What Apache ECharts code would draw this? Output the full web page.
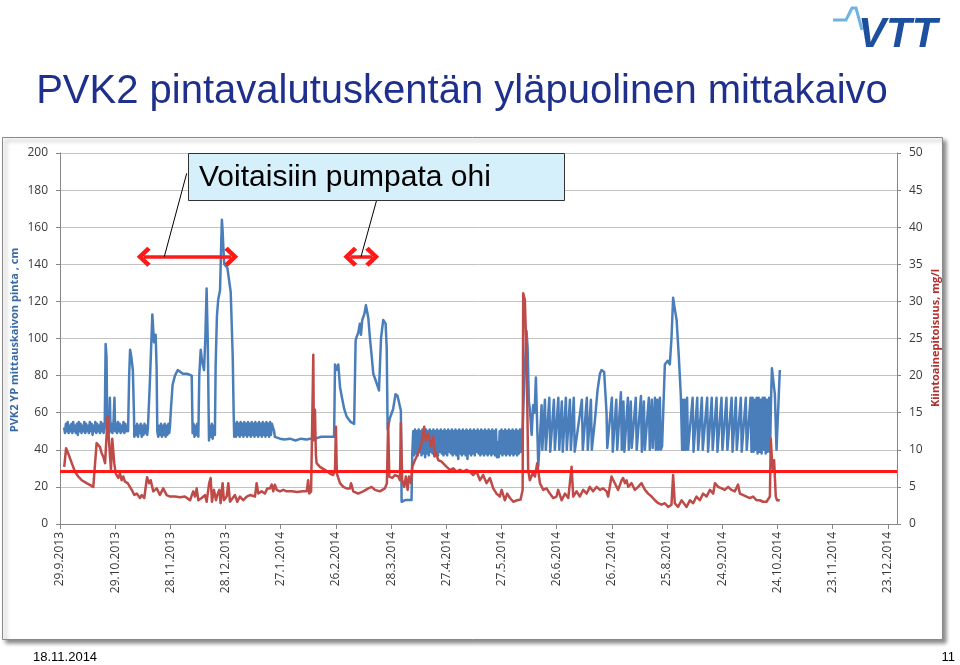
<!DOCTYPE html>
<html><head><meta charset="utf-8">
<script src="https://cdn.jsdelivr.net/npm/echarts@6/dist/echarts.min.js"></script>
<style>html,body{margin:0;padding:0;background:#fff}#c{width:960px;height:665px}</style>
</head><body><div id="c"></div>
<script>
// x = days since 29.9.2013
const tickDays = [0,30,60,90,120,150,180,210,240,270,300,330,360,390,420,450];
const leftTicks = [0,20,40,60,80,100,120,140,160,180,200];
const rightTicks = [0,5,10,15,20,25,30,35,40,45,50];

// PVK2 YP mittauskaivon pinta, cm  [day, cm]
const levelCm = [
[2.2,52],[2.7,49],[3.2,54],[3.7,50],[4.2,55],[4.7,49],[5.2,53],[5.7,50],[6.2,54],[6.7,49],[7.2,55],[7.7,50],[8.2,53],[8.7,49],[9.2,54],[9.7,48],[10.2,55],[10.7,50],[11.2,54],[11.7,49],[12.2,53],[12.7,50],[13.2,55],[13.7,49],[14.2,54],[14.7,50],[15.2,53],[15.7,49],[16.2,55],[16.7,50],[17.2,54],[17.7,48],[18.2,53],[18.7,50],[19.2,55],[19.7,49],[20.2,54],[20.7,50],[21.2,53],[21.7,49],[22.2,55],[22.7,50],[23.2,54],[23.7,49],
[24.3,52],[24.8,97],[25.3,90],[25.7,50],[26.2,54],[26.7,49],[27.1,68],[27.5,50],[28.0,54],[28.5,49],[29.0,53],[29.6,68],[30.0,50],[30.5,54],[31.0,49],[31.5,55],[32,50],[32.5,54],[33,49],[33.5,53],[34,50],[34.5,55],[35,49],[35.5,54],[36,50],[36.5,53],[37,50],
[37.6,80],[38.1,94],[38.8,90],[39.6,83],[40.2,60],[40.4,47],[40.9,53],[41.4,48],[41.9,54],[42.4,47],[42.9,53],[43.4,49],[43.9,54],[44.4,47],[44.9,53],[45.4,48],[45.9,54],[46.4,49],[46.9,53],[47.4,48],[47.8,52],
[48.8,75],[50.2,113],[51.1,98],[51.5,100],[52,102],[52.5,85],[52.9,50],[53.4,47],[53.9,53],[54.4,48],[54.9,54],[55.4,47],[55.9,53],[56.4,48],[56.9,54],[57.4,47],[57.9,53],[58.4,48],[58.9,54],[59.4,49],[59.8,53],
[60.3,62],[61.2,75],[62.5,80],[64,83],[64.8,82],[66.8,81],[69,81],[71.6,80],[72.1,49],[72.6,54],[73.1,47],[73.6,53],[74.1,48],[74.6,54],[75.2,47],
[75.7,80],[76.5,94],[77.2,88],[78.3,83],[79,100],[79.7,127],[80.3,100],[81,45],[81.5,53],[82,47],[82.5,54],[83,46],[83.5,53],[84.2,48],
[84.6,85],[85.3,112],[86,121],[87,126],[87.6,150],[88,164],[88.4,158],[88.8,149],[89.3,140],[90.2,139],[91,138],[92,137],[92.8,125],[93.9,90],[94.4,60],[94.7,47],
[95.2,54],[95.7,47],[96.2,55],[96.7,48],[97.2,54],[97.7,47],[98.2,55],[98.7,48],[99.2,54],[99.7,47],[100.2,55],[100.7,48],[101.2,54],[101.7,47],[102.2,55],[102.7,48],[103.2,54],[103.7,47],[104.2,55],[104.7,48],[105.2,54],[105.7,47],[106.2,55],[106.7,48],[107.2,54],[107.7,47],[108.2,55],[108.7,48],[109.2,54],[109.7,47],[110.2,55],[110.7,48],[111.2,54],[111.7,47],[112.2,55],[112.7,48],[113.2,54],[113.7,47],[114.2,55],[114.7,48],[115.2,54],[115.9,55],[116.4,50],[116.8,47],
[117.5,47],[119.6,46],[122,45.5],[125,46],[128,45],[131,46],[134,45.5],[135.9,46],[138.6,46],[139.5,47],[142,47],[145,47],[149,47],
[149.3,70],[149.5,86],[150.2,83],[151.3,86],[152.2,74],[153.1,69],[154.5,62],[155.8,58],[158,55],[159.9,54],
[160.7,99],[161.3,101],[162.1,103],[163,108],[163.6,102],[164.3,110],[165.4,113],[166.3,118],[167.6,111],[168.5,100],[169.5,90],[170.3,81],[172.1,76],[173.4,72],
[174.5,100],[175.7,110],[177,108],[177.6,95],[178.1,51],[178.4,51],[179.3,57],[179.9,58],[181.1,62],[182.4,70],[183.5,69],[185.3,61],[185.7,12],[188,13],[191.1,13],
[191.5,38],[192,50],[192.5,37],[193,51],[193.5,38],[194,50],[194.5,37],[195,51],[195.5,39],[196,50],[196.5,37],[197,51],[197.5,38],[198,50],[198.5,36],[199,51],[199.5,38],[200,50],[200.5,37],[201,51],[201.5,39],[202,50],[202.5,38],[203,51],[203.5,37],[204,50],[204.5,38],[205,51],[205.5,37],[206,50],[206.5,39],[207,51],[207.5,38],[208,50],[208.5,37],[209,51],[209.5,38],[210,50],[210.5,37],[211,51],[211.5,39],[212,50],[212.5,38],[213,51],[213.5,37],[214,50],[214.5,38],[215,51],[215.5,37],[216,50],[216.5,35],[217,51],[217.5,38],[218,50],[218.5,37],[219,51],[219.5,38],[220,50],[220.5,37],[221,51],[221.5,35],[222,50],[222.5,38],[223,51],[223.5,37],[224,50],[224.5,38],[225,51],[225.5,37],[226,50],[226.5,39],[227,51],[227.5,38],[228,50],[228.5,37],[229,51],[229.5,38],[230,50],[230.5,37],[231,51],[231.5,38],[232,50],[232.5,37],[233,51],[233.5,38],[234,50],[234.5,37],[235,51],[235.5,38],[236,50],[236.5,37],[237,51],[237.5,36],[238,44],[238.5,36],[239,50],[239.5,38],[240,51],[240.5,37],[241,50],[241.5,38],[242,51],[242.5,37],[243,50],[243.5,38],[244,51],[244.5,37],[245,50],[245.5,38],[246,51],[246.5,37],[247,50],[247.5,38],[248,51],[248.5,37],[249,50],[249.5,38],[250,51],[250.5,39],
[250.9,50],[251.5,52],[252.3,75],[253.6,104],[254.2,95],[254.9,66],[255.4,62],[256.4,48],[257.2,64],[258,60],[258.7,79],[260,31],[260.9,47],[261.8,64],[262.2,40],[263.6,67],[264.1,40],[266,68],[266.5,39],[268.5,67],[269,40],[270.9,68],[271.4,40],[272.8,66],[273.3,39],[275,68],[275.5,40],[277.2,67],[277.7,40],[279.3,68],[279.8,39],[283.7,67],[284.2,40],[286.4,68],[286.9,40],[288.6,67],[289.1,40],[289.5,41],[290.8,56],[292.2,72],[293.5,81],[294.4,83],[295.8,82],[296.7,81],[297.1,60],[297.5,41],
[300,68],[300.5,39],[302.4,67],[302.9,40],[304.9,71],[305.4,40],[306.3,66],[306.8,39],[308.7,68],[309.2,40],[310.3,66],[310.8,41],[313,68],[313.5,40],[315.8,69],[316.3,39],[317.4,66],[317.9,40],[320.1,68],[320.6,40],[321.7,67],[322.2,41],[323.4,68],[323.9,40],[324.7,67],[325.2,40],[326.1,68],[326.6,40],[327.3,42],
[328.8,86],[330.3,88],[331.5,86],[332.4,100],[333.3,122],[334.2,116],[335.2,110],[336.4,90],[337.5,69],[338.2,40],
[338.6,67],[339.1,40],[339.6,67],[340.1,40],[340.9,68],[341.4,40],[343.9,68],[344.4,39],[346.4,68],[346.9,40],[348.9,68],[349.4,40],[351.8,68],[352.3,39],[354.3,68],[354.8,40],[356.9,68],[357.4,39],[359.6,68],[360.1,40],[362.3,68],[362.8,40],[365.1,68],[365.6,39],[367.4,68],[367.9,40],[370.1,68],[370.6,39],[372.8,68],[373.3,40],[375.4,68],[375.9,39],[376.5,68],[377,39],[377.6,67],[378.1,40],[378.7,68],[379.2,38],[379.8,68],[380.3,39],[380.9,67],[381.4,38],[382,68],[382.5,40],[383.1,68],[383.6,38],[384.2,67],[384.7,39],[385.5,68],[386,39],[386.5,66],[387,84],[388,75],[388.6,70],[389.5,40],[391.3,83]
];

// Kiintoainepitoisuus, mg/l  [day, mg/l]
const solidsMgl = [
[2.3,7.7],[3.3,10.2],[4.5,9.5],[6.4,8.2],[8.2,7.0],[9.9,6.4],[11.8,5.9],[14.5,5.5],[15.4,5.6],[18.1,5.0],[18.6,5.1],[19.9,10.9],[21.7,10.4],[22.7,9.5],[23.5,9.1],[24.5,8.2],[25.9,14.5],[26.6,11.3],[27.7,7.3],[28.4,11.5],[29.5,8.2],[30.3,6.8],[31.7,6.2],[32.6,6.8],[33.5,5.9],[34.4,6.4],[35.3,5.7],[36.8,5.5],[38,5.0],[39,4.6],[40.4,3.9],[41.7,4.1],[43.5,3.5],[44.4,3.9],[45.8,3.5],[46.6,3.7],[47.3,6.3],[48.5,5.5],[49.3,5.9],[50.7,4.4],[52.6,4.8],[54.3,3.9],[55.3,4.1],[56.1,4.8],[58,3.9],[59.8,3.7],[62.5,3.7],[65.2,3.6],[67.9,3.7],[70.7,3.2],[72.4,4.4],[73.4,3.7],[74.3,4.8],[75.2,3.2],[77,3.5],[78.8,3.9],[79.7,3.0],[81.1,5.5],[81.9,6.2],[82.6,3.0],[83.7,4.6],[84.8,3.2],[85.5,3.9],[86.6,4.6],[87.3,2.8],[88.4,5.5],[89.1,3.2],[90.6,3.7],[91.5,5.5],[92.4,3.0],[93.9,3.5],[95.1,3.9],[96.4,3.0],[97.8,3.7],[99.6,3.2],[101.5,3.7],[103.3,3.9],[106,3.7],[106.9,5.5],[107.8,4.1],[109.6,4.4],[111.4,4.1],[112.7,4.8],[114.1,4.8],[115.1,5.3],[115.9,4.4],[116.8,5.3],[117.8,4.6],[119.6,4.4],[121.4,4.6],[123.2,4.4],[126,4.4],[129,4.3],[132,4.4],[134.1,4.4],[134.9,5.9],[135.5,4.1],[136.5,4.4],[137.1,4.4],[137.7,22.8],[138,11.3],[138.6,15.4],[139.1,9.3],[139.5,8.2],[141.3,7.7],[144,7.3],[146.7,6.8],[148.5,6.6],[149.5,7.3],[150,13.1],[150.5,6.8],[152.2,5.5],[154,5.0],[155.8,4.8],[157.6,4.8],[158.2,5.5],[159.4,4.4],[162.1,4.1],[164.8,4.4],[167.6,4.8],[169.4,5.0],[171.2,4.6],[173.9,4.4],[176.6,4.8],[177.7,5.5],[178.4,13.6],[179,6.4],[180.6,6.2],[182.1,6.6],[183.9,6.4],[184.8,5.9],[185.3,13.6],[186,5.9],[187.1,5.0],[188,6.4],[189,4.6],[189.7,6.4],[190.8,5.5],[191.5,7.7],[192.9,8.6],[194.7,9.5],[196.6,10.9],[198,13.1],[198.7,11.3],[200.2,12.2],[201.6,10.4],[202.9,11.8],[203.6,9.1],[204.3,9.7],[205.6,8.6],[207.4,8.4],[210.2,7.7],[212,7.3],[213.8,7.5],[215.6,7.05],[217.4,7.3],[219.2,7.05],[221,7.3],[222.8,7.05],[224.6,6.6],[226.5,7.05],[228.3,5.9],[230,6.6],[231.9,5.5],[233.7,6.2],[235.5,4.8],[237.3,4.1],[239.1,3.7],[240.1,4.6],[241.8,3.2],[243.1,4.1],[244.6,3.5],[246.4,3.0],[248.5,3.2],[250.4,3.3],[251.5,4.6],[251.8,31.1],[252.7,30.2],[253.3,25.2],[254,16.3],[254.5,7.3],[255.4,5.9],[256.9,6.8],[258.2,6.4],[259.4,8.2],[260.9,5.5],[262.7,4.6],[264.5,4.8],[266.3,4.1],[268.1,3.5],[269.9,3.7],[270.8,4.6],[272.7,3.2],[274.5,4.1],[276.3,3.5],[278.1,7.7],[279,3.7],[280.8,4.4],[282.6,3.7],[284.4,4.6],[286.3,4.1],[288,5.0],[289.8,4.4],[291.7,5.0],[293.5,4.6],[295.3,4.8],[297.1,4.4],[298,3.7],[299.8,6.4],[301.6,5.5],[303.4,4.6],[305.3,5.9],[306.1,6.2],[307.1,5.5],[308,5.9],[308.9,5.0],[310.7,5.5],[312.5,4.6],[314.3,5.0],[316.1,5.5],[318,4.6],[319.7,4.1],[321.6,3.7],[323.4,3.2],[325.2,2.8],[327,2.6],[328.8,2.8],[330.6,2.3],[332.4,2.6],[333.3,6.6],[334.2,2.8],[336,2.3],[337.9,3.2],[338.8,3.2],[340.6,2.3],[342.4,3.2],[344.2,2.8],[346,3.7],[347.8,3.2],[349.6,4.1],[351.5,3.7],[353.3,4.6],[355.1,4.1],[356,5.5],[357.8,5.0],[359.6,4.8],[361.4,4.6],[363.2,5.0],[365,4.6],[366.8,4.4],[368.6,5.3],[369.6,4.1],[371.4,3.9],[373.2,3.7],[375,3.5],[376.8,3.7],[378.6,3.2],[380.4,3.2],[382.2,3.0],[384.1,3.0],[385,3.2],[385.9,3.7],[386.4,11.5],[387.1,8.2],[387.7,7.3],[388.2,8.6],[389.1,3.7],[389.8,3.2],[391.3,3.2]
];

const thresholdMgl = 7.1;
// "Voitaisiin pumpata ohi" periods [startDay, endDay] at level (cm)
const bypassPeriods = [[45.5,93.1],[157.8,169.7]];
const bypassLevel = 144.1;

function dayLabel(d){
  const dt = new Date(2013, 8, 29 + Math.round(d));
  return dt.getDate() + '.' + (dt.getMonth()+1) + '.' + dt.getFullYear();
}

const chart = echarts.init(document.getElementById('c'), null, {renderer:'canvas'});
const labelFont = '"Open Sans", "Noto Sans", sans-serif';
const chevron = 'path://M10,0 L20,9 L17,12 L10,5.5 L3,12 L0,9 Z';

chart.setOption({
  animation: false,
  backgroundColor: 'transparent',
  grid: {left: 60, right: 63, top: 153, bottom: 141, containLabel: false},
  xAxis: {
    type: 'value', min: 0, max: 455,
    axisLine: {show: true, onZero: false, lineStyle: {color: '#868686', width: 1}},
    axisTick: {show: true, customValues: tickDays, length: 5, lineStyle: {color: '#868686'}},
    axisLabel: {customValues: tickDays, rotate: 90, margin: 8, fontSize: 12, color: '#3a3a3a', fontFamily: labelFont, formatter: v => dayLabel(v)},
    splitLine: {show: false}
  },
  yAxis: [
    {type: 'value', min: 0, max: 200, interval: 20, position: 'left',
     axisLine: {show: true, lineStyle: {color: '#868686'}},
     axisTick: {show: true, length: 4, lineStyle: {color: '#868686'}},
     axisLabel: {fontSize: 12, color: '#3a3a3a', margin: 12, fontFamily: labelFont},
     splitLine: {show: true, lineStyle: {color: '#c3c3c3', width: 1}}},
    {type: 'value', min: 0, max: 50, interval: 5, position: 'right',
     axisLine: {show: true, lineStyle: {color: '#868686'}},
     axisTick: {show: true, length: 4, lineStyle: {color: '#868686'}},
     axisLabel: {fontSize: 12, color: '#3a3a3a', margin: 12, fontFamily: labelFont},
     splitLine: {show: false}}
  ],
  series: [
    {type: 'line', name: 'PVK2 YP mittauskaivon pinta, cm', yAxisIndex: 0, data: levelCm,
     showSymbol: false, symbol: 'none', z: 3,
     lineStyle: {color: '#4a7ebb', width: 2.5, join: 'round'},
     markLine: {silent: true, symbol: [chevron, chevron], symbolSize: [20, 14],
       lineStyle: {color: '#ff1a1a', width: 3.5, type: 'solid'}, label: {show: false},
       data: bypassPeriods.map(p => [{coord: [p[0], bypassLevel]}, {coord: [p[1], bypassLevel]}])}
    },
    {type: 'line', name: 'Kiintoainepitoisuus, mg/l', yAxisIndex: 1, data: solidsMgl,
     showSymbol: false, symbol: 'none', z: 4,
     lineStyle: {color: '#be4b48', width: 2.5, join: 'round'},
     markLine: {silent: true, symbol: 'none', label: {show: false},
       lineStyle: {color: '#ff1a1a', width: 3, type: 'solid'},
       data: [{yAxis: thresholdMgl}]}
    }
  ],
  graphic: [
    {type: 'rect', z: -10, silent: true, shape: {x: 2.5, y: 137.5, width: 940, height: 502},
     style: {fill: '#ffffff', stroke: '#8a8a8a', lineWidth: 1, shadowBlur: 4, shadowOffsetX: 3, shadowOffsetY: 3, shadowColor: 'rgba(0,0,0,0.45)'}},
    {type: 'text', z: 10, x: 462, y: 92,
     style: {text: 'PVK2 pintavalutuskentän yläpuolinen mittakaivo', font: '40px "Liberation Sans", Arial, sans-serif', fill: '#1f2f8c', align: 'center', verticalAlign: 'middle', textAlign: 'center', textVerticalAlign: 'middle'}},
    {type: 'text', z: 10, x: 15, y: 340, rotation: Math.PI/2,
     style: {text: 'PVK2 YP mittauskaivon pinta , cm', font: 'bold 11px "Open Sans", sans-serif', fill: '#3a6aa8', align: 'center', verticalAlign: 'middle', textAlign: 'center', textVerticalAlign: 'middle'}},
    {type: 'text', z: 10, x: 936, y: 338, rotation: Math.PI/2,
     style: {text: 'Kiintoainepitoisuus, mg/l', font: 'bold 11px "Open Sans", sans-serif', fill: '#b3302e', align: 'center', verticalAlign: 'middle', textAlign: 'center', textVerticalAlign: 'middle'}},
    {type: 'line', z: 20, silent: true, shape: {x1: 186.7, y1: 173.3, x2: 164.3, y2: 256.7}, style: {stroke: '#000', lineWidth: 1}},
    {type: 'line', z: 20, silent: true, shape: {x1: 376.7, y1: 200, x2: 361, y2: 256.7}, style: {stroke: '#000', lineWidth: 1}},
    {type: 'rect', z: 30, silent: true, shape: {x: 188.5, y: 153.5, width: 376, height: 47},
     style: {fill: '#d5effb', stroke: '#333', lineWidth: 1}},
    {type: 'text', z: 31, x: 199, y: 178,
     style: {text: 'Voitaisiin pumpata ohi', font: '30px "Liberation Sans", Arial, sans-serif', fill: '#000', align: 'left', verticalAlign: 'middle', textAlign: 'left', textVerticalAlign: 'middle'}},
    {type: 'polyline', z: 10, silent: true, shape: {points: [[833,20],[846,20],[852,8],[856,8],[862,30]]},
     style: {stroke: '#6fb3e3', lineWidth: 3, fill: null}},
    {type: 'text', z: 11, x: 858, y: 35,
     style: {text: 'VTT', font: 'italic bold 42px "Liberation Sans", Arial, sans-serif', fill: '#1d4f9f', align: 'left', verticalAlign: 'middle', textAlign: 'left', textVerticalAlign: 'middle'}},
    {type: 'text', z: 10, x: 33, y: 657,
     style: {text: '18.11.2014', font: '13px "Liberation Sans Narrow", "Liberation Sans", Arial, sans-serif', fill: '#000', align: 'left', verticalAlign: 'middle', textAlign: 'left', textVerticalAlign: 'middle'}},
    {type: 'text', z: 10, x: 955, y: 657,
     style: {text: '11', font: '13px "Liberation Sans Narrow", "Liberation Sans", Arial, sans-serif', fill: '#000', align: 'right', verticalAlign: 'middle', textAlign: 'right', textVerticalAlign: 'middle'}}
  ]
});
</script>
</body></html>
